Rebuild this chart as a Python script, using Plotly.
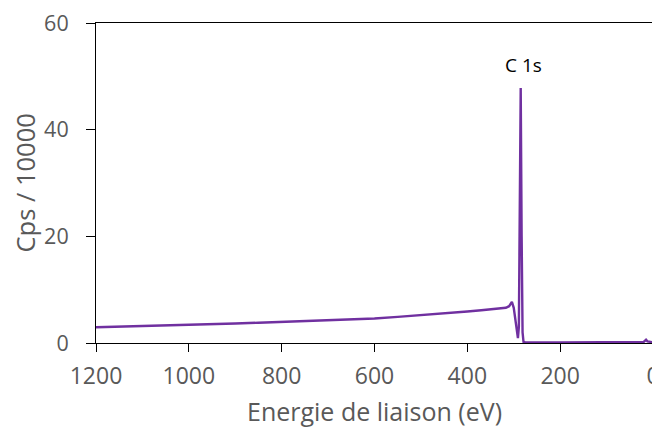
import plotly.graph_objects as go

# Binding energy (eV) and counts (Cps / 10000)
energy = [1200, 1150, 1100, 1050, 1000, 950, 900, 850, 800, 750, 700, 650, 600,
          550, 500, 450, 400, 370, 340, 317, 310, 304, 300, 295, 291, 289, 287,
          285, 283, 281, 279, 275, 200, 100, 30, 20, 15, 12, 5, 0]
counts = [2.95, 3.05, 3.15, 3.25, 3.35, 3.5, 3.65, 3.8, 3.95, 4.1, 4.25, 4.4, 4.6,
          4.9, 5.2, 5.5, 5.9, 6.15, 6.4, 6.6, 6.9, 7.7, 6.6, 3.0, 0.9, 3.0, 20.0,
          47.8, 20.0, 2.0, 0.2, 0.1, 0.1, 0.1, 0.15, 0.2, 0.6, 0.3, 0.2, 0.1]

x_ticks = [0, 200, 400, 600, 800, 1000, 1200]
y_ticks = [0, 20, 40, 60]
peak_label = "C 1s"
peak_pos = (280, 52.2)

FONT = "Open Sans"
GRAY = "#595959"

# page has an 8px body margin: figure is sized/offset to compensate
PL, PR, PT, PB = 96, 653, 23, 343  # plot area in page pixels
W, H = 652, 420

fig = go.Figure()
fig.add_trace(go.Scatter(x=energy, y=counts, mode="lines",
                         line=dict(color="#7030A0", width=2.4),
                         showlegend=False, hoverinfo="skip"))

fig.add_annotation(x=peak_pos[0], y=peak_pos[1], text=peak_label, showarrow=False,
                   font=dict(family=FONT, size=19, color="#000000"))

# axis titles
fig.add_annotation(xref="paper", yref="paper", x=(374 - PL) / (PR - PL),
                   y=-(411 - PB) / (PB - PT), text="Energie de liaison (eV)",
                   showarrow=False, font=dict(family=FONT, size=25, color=GRAY),
                   xanchor="center", yanchor="middle")
fig.add_annotation(xref="paper", yref="paper", x=-(PL - 24) / (PR - PL),
                   y=(PB - 183.5) / (PB - PT), text="Cps / 10000", textangle=-90,
                   showarrow=False, font=dict(family=FONT, size=25.5, color=GRAY),
                   xanchor="center", yanchor="middle")

fig.update_layout(
    width=W, height=H,
    margin=dict(l=PL - 8, r=W - (PR - 8), t=PT - 8, b=H - (PB - 8)),
    paper_bgcolor="white", plot_bgcolor="white",
    font=dict(family=FONT, color=GRAY),
    xaxis=dict(range=[1200, 0], tickvals=x_ticks, showgrid=False, zeroline=False,
               showline=True, linecolor="#000000", linewidth=1, mirror=True,
               ticks="outside", ticklen=8, tickcolor="#000000", tickwidth=1,
               ticklabeloverflow="allow", automargin=False,
               tickfont=dict(family=FONT, size=23, color=GRAY), ticklabelstandoff=4),
    yaxis=dict(range=[0, 60], tickvals=y_ticks, showgrid=False, zeroline=False,
               showline=True, linecolor="#000000", linewidth=1, mirror=True,
               ticks="outside", ticklen=9, tickcolor="#000000", tickwidth=1,
               ticklabeloverflow="allow", automargin=False,
               tickfont=dict(family=FONT, size=21.5, color=GRAY), ticklabelstandoff=13),
)

fig.write_html("out.html")
